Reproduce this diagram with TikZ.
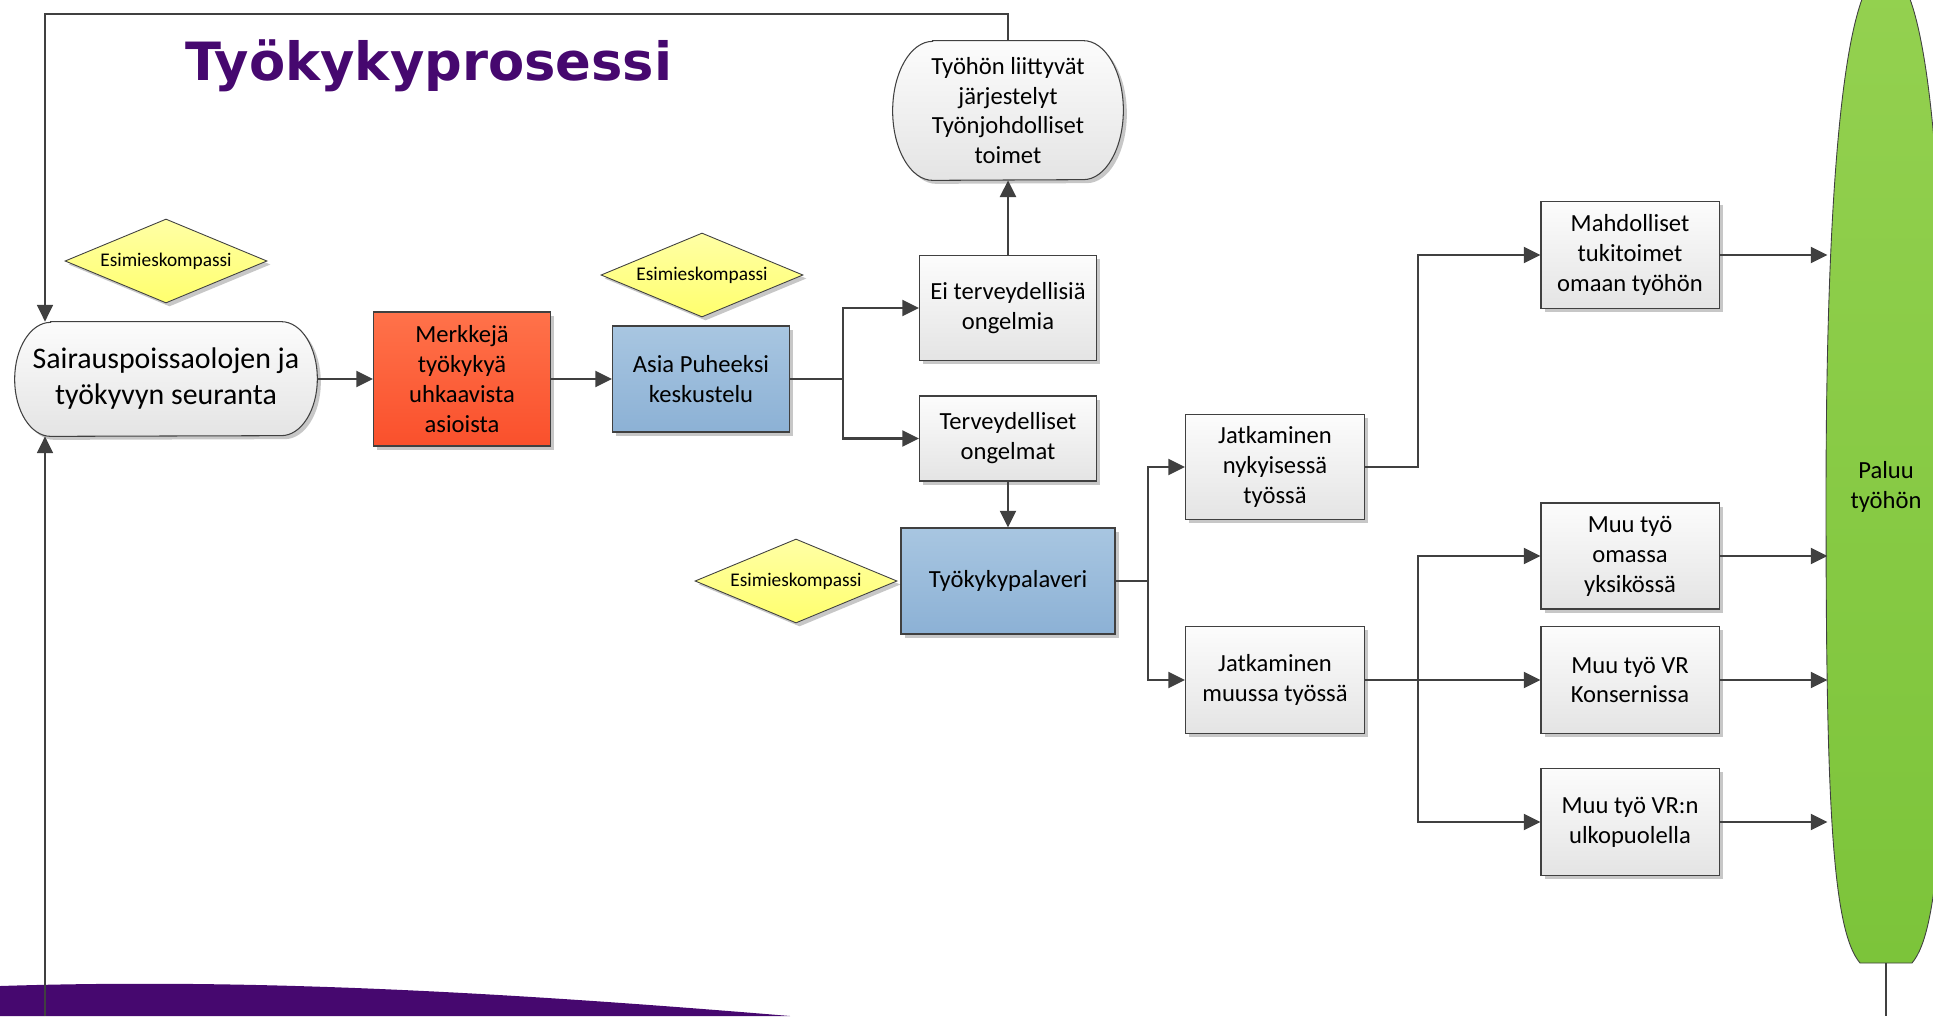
\documentclass[tikz,border=0pt]{standalone}
\usepackage{fontspec}
\setmainfont{Carlito}
\newfontfamily\titlefont{DejaVu Sans}
\usetikzlibrary{arrows.meta,shapes.geometric,shadows}
\pgfdeclarelayer{background}
\pgfsetlayers{background,main}
\definecolor{vrpurple}{RGB}{70,8,111}
\definecolor{lineg}{RGB}{64,64,64}
\definecolor{boxtop}{RGB}{252,252,252}
\definecolor{boxbot}{RGB}{228,228,228}
\definecolor{redtop}{RGB}{255,114,74}
\definecolor{redbot}{RGB}{250,80,44}
\definecolor{bluetop}{RGB}{168,198,225}
\definecolor{bluebot}{RGB}{140,177,213}
\definecolor{yeltop}{RGB}{255,255,165}
\definecolor{yelbot}{RGB}{255,255,110}
\definecolor{greentop}{RGB}{148,209,80}
\definecolor{greenbot}{RGB}{124,196,58}

\begin{document}
\begin{tikzpicture}[
  boxshadow/.style={drop shadow={shadow xshift=0.07cm, shadow yshift=-0.07cm, fill=black, opacity=0.22}},
  procbox/.style={rectangle, draw=lineg, line width=0.6pt, top color=boxtop, bottom color=boxbot, boxshadow,
    align=center, font=\fontsize{14}{17}\selectfont, minimum width=3.54cm, minimum height=2.12cm, inner sep=2pt},
  termtext/.style={rectangle, align=center, inner sep=0pt},
  termshape/.style={draw=lineg, line width=0.6pt, top color=boxtop, bottom color=boxbot, boxshadow},
  kompassi/.style={diamond, aspect=2.4, draw=lineg, line width=0.5pt, top color=yeltop, bottom color=yelbot, boxshadow,
    font=\fontsize{11}{13}\selectfont, minimum width=4.04cm, minimum height=1.68cm, inner sep=0pt},
  conn/.style={draw=lineg, line width=1.6pt, -{Triangle[length=9.5pt,width=9pt]}},
  loopline/.style={draw=lineg, line width=1.1pt},
]
\useasboundingbox (0,0) rectangle (38.66,-20.32);

% Background shapes
\fill[vrpurple] (0,-19.72) .. controls (5,-19.56) and (10,-19.84) .. (15.8,-20.32) -- (0,-20.32) -- cycle;
\path[draw=lineg, line width=0.5pt, top color=greentop, bottom color=greenbot]
  (37.2,-19.26) .. controls (36.64,-18.6) and (36.52,-16) .. (36.52,-10)
  .. controls (36.52,-3.5) and (36.9,0.6) .. (37.72,0.6)
  .. controls (38.54,0.6) and (38.92,-3.5) .. (38.92,-10)
  .. controls (38.92,-16) and (38.8,-18.6) .. (38.24,-19.26) -- cycle;
\node[font=\fontsize{14}{17}\selectfont, align=center] (paluu) at (37.72,-9.74) {Paluu\\työhön};

% Title
\node[anchor=base west, text=vrpurple, font=\titlefont\fontsize{30}{36}\bfseries\selectfont] (otsikko) at (3.58,-1.6) {Työkykyprosessi};

% Start and end shapes (text first, outline on the background layer)
\node[termtext, minimum width=6.04cm, minimum height=2.28cm, font=\fontsize{17}{20.5}\selectfont] (seuranta) at (3.32,-7.58) {Sairauspoissaolojen ja\\työkyvyn seuranta};
\node[termtext, minimum width=4.6cm, minimum height=2.78cm, font=\fontsize{14}{17}\selectfont] (jarjestelyt) at (20.16,-2.21) {Työhön liittyvät\\järjestelyt\\Työnjohdolliset\\toimet};
\begin{pgfonlayer}{background}
\path[termshape] ([xshift=0.72cm]seuranta.north west) -- ([xshift=-0.72cm]seuranta.north east)
  arc[start angle=90, end angle=-90, x radius=0.72cm, y radius=1.14cm] -- ([xshift=0.72cm]seuranta.south west)
  arc[start angle=270, end angle=90, x radius=0.72cm, y radius=1.14cm] -- cycle;
\path[termshape] ([xshift=0.8cm]jarjestelyt.north west) -- ([xshift=-0.8cm]jarjestelyt.north east)
  arc[start angle=90, end angle=-90, x radius=0.8cm, y radius=1.39cm] -- ([xshift=0.8cm]jarjestelyt.south west)
  arc[start angle=270, end angle=90, x radius=0.8cm, y radius=1.39cm] -- cycle;
\end{pgfonlayer}

% Steps
\node[procbox, minimum height=2.68cm, top color=redtop, bottom color=redbot] (merkit) at (9.24,-7.58) {Merkkejä\\työkykyä\\uhkaavista\\asioista};
\node[procbox, top color=bluetop, bottom color=bluebot] (puheeksi) at (14.02,-7.58) {Asia Puheeksi\\keskustelu};
\node[procbox, minimum height=2.10cm] (eiongelmia) at (20.16,-6.16) {Ei terveydellisiä\\ongelmia};
\node[procbox, minimum height=1.70cm] (ongelmat) at (20.16,-8.77) {Terveydelliset\\ongelmat};
\node[procbox, minimum width=4.28cm, top color=bluetop, bottom color=bluebot] (palaveri) at (20.16,-11.62) {Työkykypalaveri};
\node[procbox, minimum width=3.58cm, minimum height=2.10cm] (nykyinen) at (25.5,-9.34) {Jatkaminen\\nykyisessä\\työssä};
\node[procbox, minimum width=3.58cm, minimum height=2.14cm] (muutyo) at (25.5,-13.6) {Jatkaminen\\muussa työssä};
\node[procbox, minimum width=3.56cm, minimum height=2.14cm] (tukitoimet) at (32.6,-5.1) {Mahdolliset\\tukitoimet\\omaan työhön};
\node[procbox, minimum width=3.56cm] (yksikko) at (32.6,-11.12) {Muu työ\\omassa\\yksikössä};
\node[procbox, minimum width=3.56cm, minimum height=2.14cm] (konserni) at (32.6,-13.6) {Muu työ VR\\Konsernissa};
\node[procbox, minimum width=3.56cm, minimum height=2.14cm] (ulkopuoli) at (32.6,-16.44) {Muu työ VR:n\\ulkopuolella};

\node[kompassi] (kompassi1) at (3.32,-5.22) {Esimieskompassi};
\node[kompassi] (kompassi2) at (14.04,-5.5) {Esimieskompassi};
\node[kompassi] (kompassi3) at (15.92,-11.62) {Esimieskompassi};

% Connectors
\coordinate (haara1) at (16.86,-7.58);
\coordinate (haara2) at (22.96,-11.62);
\coordinate (haara3) at (28.36,-9.34);
\coordinate (haara4) at (28.36,-13.6);
\coordinate (ylavasen) at (0.9,-0.28);
\coordinate (alavasen) at (0.9,-20.32);
\coordinate (paluureuna) at (36.55,0);
\coordinate (paluuala) at (37.72,-19.26);
\coordinate (alaoikea) at (37.72,-20.32);

\draw[conn] (seuranta.east) -- (merkit.west);
\draw[conn] (merkit.east) -- (puheeksi.west);
\draw[conn] (puheeksi.east) -- (haara1) |- (eiongelmia.west);
\draw[conn] (haara1) |- (ongelmat.west);
\draw[conn] (eiongelmia.north) -- (jarjestelyt.south);
\draw[conn] (ongelmat.south) -- (palaveri.north);
\draw[conn] (palaveri.east) -- (haara2) |- (nykyinen.west);
\draw[conn] (haara2) |- (muutyo.west);
\draw[conn] (nykyinen.east) -- (haara3) |- (tukitoimet.west);
\draw[conn] (muutyo.east) -- (haara4) |- (yksikko.west);
\draw[conn] (haara4) -- (konserni.west);
\draw[conn] (haara4) |- (ulkopuoli.west);
\foreach \b in {tukitoimet,yksikko,konserni,ulkopuoli}
  \draw[conn] (\b.east) -- (\b.east -| paluureuna);

% Loop back to the start
\draw[loopline, -{Triangle[length=9.5pt,width=9pt]}] (jarjestelyt.north) |- (ylavasen) -- (seuranta.north -| ylavasen);
\draw[loopline, -{Triangle[length=9.5pt,width=9pt]}] (alavasen) -- (seuranta.south -| alavasen);
\draw[loopline] (paluuala) -- (alaoikea);
\end{tikzpicture}
\end{document}
